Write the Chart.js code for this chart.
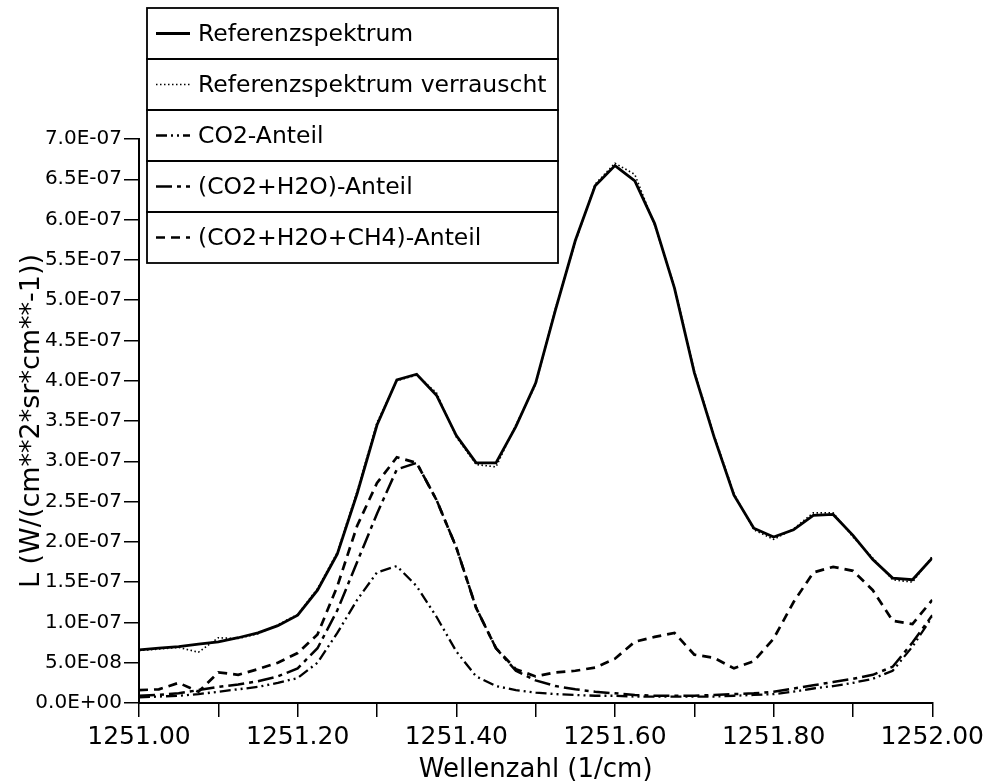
<!DOCTYPE html>
<html>
<head>
<meta charset="utf-8">
<script src="https://cdn.jsdelivr.net/npm/chart.js@4"></script>
<style>
  html, body { margin: 0; padding: 0; background: #fff; }
  canvas { display: block; }
</style>
</head>
<body>
<canvas id="spectrumChart" width="984" height="783"></canvas>
<script>
// wavenumbers (1/cm)
const wavenumber = [
    1251.000, 1251.025, 1251.050, 1251.075, 1251.100, 1251.125, 1251.150, 1251.175,
    1251.200, 1251.225, 1251.250, 1251.275, 1251.300, 1251.325, 1251.350, 1251.375,
    1251.400, 1251.425, 1251.450, 1251.475, 1251.500, 1251.525, 1251.550, 1251.575,
    1251.600, 1251.625, 1251.650, 1251.675, 1251.700, 1251.725, 1251.750, 1251.775,
    1251.800, 1251.825, 1251.850, 1251.875, 1251.900, 1251.925, 1251.950, 1251.975,
    1252.000
];

// radiance values, in units of 1E-07 W/(cm**2*sr*cm**-1)
const refSpectrum = [
    0.66, 0.68, 0.70, 0.73, 0.76, 0.81, 0.87, 0.96,
    1.09, 1.40, 1.85, 2.60, 3.45, 4.01, 4.08, 3.82,
    3.32, 2.98, 2.98, 3.43, 3.97, 4.88, 5.74, 6.42,
    6.67, 6.48, 5.95, 5.15, 4.10, 3.30, 2.58, 2.17,
    2.06, 2.15, 2.33, 2.34, 2.08, 1.78, 1.55, 1.53,
    1.80
];
const refNoisy = [
    0.65, 0.67, 0.69, 0.63, 0.81, 0.80, 0.86, 0.97,
    1.10, 1.42, 1.87, 2.63, 3.48, 4.00, 4.07, 3.85,
    3.30, 2.96, 2.93, 3.45, 3.95, 4.90, 5.72, 6.44,
    6.70, 6.56, 5.93, 5.17, 4.12, 3.32, 2.60, 2.15,
    2.03, 2.16, 2.36, 2.36, 2.06, 1.80, 1.53, 1.50,
    1.82
];
const co2Part = [
    0.07, 0.08, 0.09, 0.11, 0.14, 0.17, 0.20, 0.25,
    0.31, 0.50, 0.87, 1.28, 1.62, 1.70, 1.45, 1.07,
    0.64, 0.33, 0.21, 0.16, 0.13, 0.11, 0.10, 0.09,
    0.09, 0.08, 0.08, 0.08, 0.08, 0.08, 0.09, 0.10,
    0.11, 0.14, 0.18, 0.21, 0.25, 0.30, 0.40, 0.70,
    1.07
];
const co2H2oPart = [
    0.09, 0.10, 0.12, 0.16, 0.20, 0.23, 0.27, 0.33,
    0.43, 0.68, 1.15, 1.75, 2.35, 2.90, 2.98, 2.52,
    1.93, 1.18, 0.68, 0.40, 0.28, 0.21, 0.17, 0.14,
    0.12, 0.10, 0.09, 0.09, 0.09, 0.10, 0.11, 0.12,
    0.14, 0.18, 0.22, 0.26, 0.30, 0.35, 0.45, 0.75,
    1.09
];
const co2H2oCh4Part = [
    0.16, 0.17, 0.25, 0.14, 0.38, 0.35, 0.42, 0.50,
    0.62, 0.85, 1.45, 2.20, 2.73, 3.05, 2.98, 2.52,
    1.93, 1.18, 0.68, 0.42, 0.33, 0.38, 0.40, 0.44,
    0.55, 0.76, 0.82, 0.87, 0.60, 0.56, 0.43, 0.52,
    0.80, 1.25, 1.62, 1.69, 1.64, 1.40, 1.02, 0.98,
    1.28
];

const seriesLabels = [
    'Referenzspektrum',
    'Referenzspektrum verrauscht',
    'CO2-Anteil',
    '(CO2+H2O)-Anteil',
    '(CO2+H2O+CH4)-Anteil'
];

function toPoints(values) {
    return values.map((v, i) => ({ x: wavenumber[i], y: v }));
}

function formatExp(v) {
    const val = v * 1e-7;
    if (Math.abs(val) < 1e-12) return '0.0E+00';
    let e = Math.floor(Math.log10(val) + 1e-9);
    let m = val / Math.pow(10, e);
    if (m >= 9.95) { m /= 10; e += 1; }
    const sign = e < 0 ? '-' : '+';
    const ae = Math.abs(e);
    return m.toFixed(1) + 'E' + sign + (ae < 10 ? '0' : '') + ae;
}

const FONT = '"DejaVu Sans", Verdana, sans-serif';

const boxedLegend = {
    id: 'boxedLegend',
    afterDraw(chart) {
        const ctx = chart.ctx;
        const left = 147, top = 8, width = 411, rowH = 51;
        ctx.save();
        ctx.fillStyle = '#fff';
        ctx.fillRect(left, top, width, rowH * 5);
        ctx.strokeStyle = '#000';
        chart.data.datasets.forEach((ds, i) => {
            const y = top + i * rowH;
            ctx.setLineDash([]);
            ctx.lineWidth = 1.8;
            ctx.strokeRect(left, y, width, rowH);
            const cy = y + rowH / 2;
            ctx.beginPath();
            ctx.setLineDash(ds.borderDash || []);
            ctx.lineWidth = ds.borderWidth;
            ctx.moveTo(156, cy);
            ctx.lineTo(190, cy);
            ctx.stroke();
            ctx.setLineDash([]);
            ctx.fillStyle = '#000';
            ctx.font = '23.5px ' + FONT;
            ctx.textBaseline = 'middle';
            ctx.fillText(ds.label, 198, cy + 1);
        });
        ctx.restore();
    }
};

const ctx = document.getElementById('spectrumChart').getContext('2d');

new Chart(ctx, {
    type: 'line',
    data: {
        datasets: [
            { label: seriesLabels[0], data: toPoints(refSpectrum), borderColor: '#000', borderWidth: 2.8, borderDash: [] },
            { label: seriesLabels[1], data: toPoints(refNoisy), borderColor: '#000', borderWidth: 1.6, borderDash: [1.5, 2.5] },
            { label: seriesLabels[2], data: toPoints(co2Part), borderColor: '#000', borderWidth: 2.3, borderDash: [11, 4, 2, 4, 2, 4] },
            { label: seriesLabels[3], data: toPoints(co2H2oPart), borderColor: '#000', borderWidth: 2.5, borderDash: [16, 5, 4, 5] },
            { label: seriesLabels[4], data: toPoints(co2H2oCh4Part), borderColor: '#000', borderWidth: 2.7, borderDash: [9, 6] }
        ]
    },
    options: {
        responsive: false,
        animation: false,
        events: [],
        elements: { point: { radius: 0 }, line: { tension: 0, fill: false } },
        layout: { padding: { top: 139, right: 51, left: 0, bottom: 0 } },
        scales: {
            x: {
                type: 'linear',
                min: 1251,
                max: 1252,
                afterFit: (scale) => { scale.height = 80; },
                border: { display: true, color: '#000', width: 2 },
                grid: { drawOnChartArea: false, drawTicks: true, tickLength: 14, color: '#000', lineWidth: 1.5 },
                ticks: {
                    stepSize: 0.1,
                    color: '#000',
                    padding: 0,
                    maxRotation: 0,
                    autoSkip: false,
                    font: { size: 25, family: FONT, lineHeight: 1.6 },
                    callback: (v) => (Math.round(v * 10) % 2 === 0 ? v.toFixed(2) : '')
                },
                title: {
                    display: true,
                    text: 'Wellenzahl (1/cm)',
                    color: '#000',
                    font: { size: 26, family: FONT },
                    padding: { top: 0, bottom: -3 }
                }
            },
            y: {
                min: 0,
                max: 7,
                afterFit: (scale) => { scale.width = 139; },
                border: { display: true, color: '#000', width: 2 },
                grid: { drawOnChartArea: false, drawTicks: true, tickLength: 15, color: '#000', lineWidth: 1.5 },
                ticks: {
                    stepSize: 0.5,
                    color: '#000',
                    padding: 2,
                    autoSkip: false,
                    font: { size: 20, family: FONT },
                    callback: (v) => formatExp(v)
                },
                title: {
                    display: true,
                    text: 'L (W/(cm**2*sr*cm**-1))',
                    color: '#000',
                    font: { size: 27, family: FONT },
                    padding: { top: 16, bottom: 0 }
                }
            }
        },
        plugins: {
            legend: { display: false },
            tooltip: { enabled: false }
        }
    },
    plugins: [boxedLegend]
});
</script>
</body>
</html>
